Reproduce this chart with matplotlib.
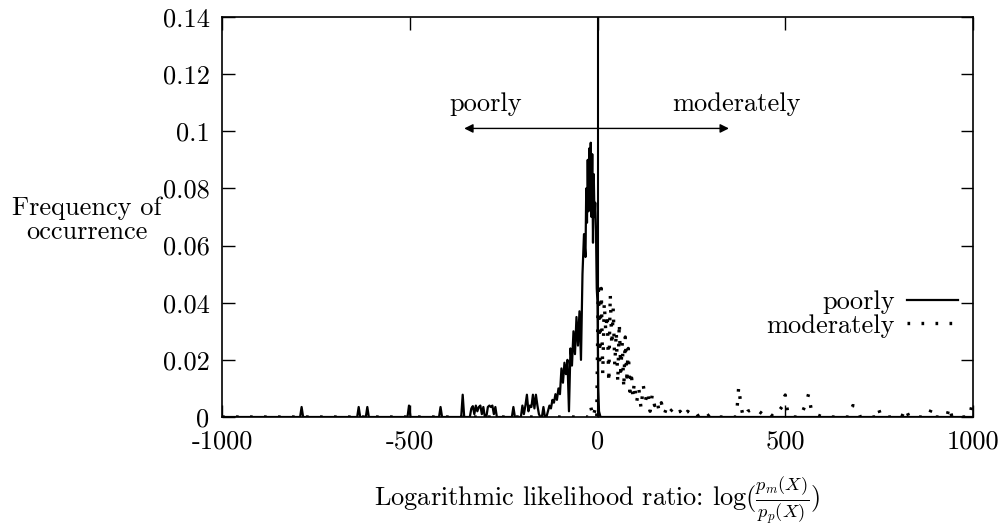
import matplotlib
matplotlib.use("Agg")
import matplotlib.pyplot as plt

plt.rcParams['font.family'] = ['cmr10', 'DejaVu Serif']
plt.rcParams['mathtext.fontset'] = 'cm'
plt.rcParams['axes.unicode_minus'] = False
plt.rcParams['axes.formatter.use_mathtext'] = True

# ---- data ----
x_ticks = [-1000, -500, 0, 500, 1000]
x_ticklabels = ['-1000', '-500', '0', '500', '1000']
y_ticks = [0, 0.02, 0.04, 0.06, 0.08, 0.10, 0.12, 0.14]
y_ticklabels = ['0', '0.02', '0.04', '0.06', '0.08', '0.1', '0.12', '0.14']

poorly_x = [-1000, -792, -788, -784, -640, -636, -632, -617, -613, -609,
            -506, -502, -498, -422, -418, -414, -363, -359, -355,
            -340, -336, -332, -328, -324, -320, -316, -312, -308, -304, -300,
            -296, -292, -288, -284, -280, -276, -272, -268,
            -228, -224, -220, -204, -200, -196, -192, -188, -184, -180, -176,
            -172, -168, -164, -160, -156, -152, -148, -144, -140, -136,
            -132, -128, -124, -120, -116, -112, -108, -104, -100, -96, -92,
            -88, -84, -80, -76, -72, -68, -64, -60, -56, -52, -48, -44, -40,
            -36, -32, -30, -28, -26, -24, -22, -20, -18, -16, -14, -12, -10,
            -8, -6, -4, -2, 0, 2, 4, 8, 1000]
poorly_y = [0, 0, 0.0035, 0, 0, 0.0035, 0, 0, 0.0035, 0,
            0, 0.004, 0, 0, 0.0035, 0, 0, 0.0078, 0,
            0, 0.003, 0.0038, 0.001, 0.004, 0.002, 0.0035, 0.004, 0.001, 0.0035, 0,
            0, 0.0035, 0.004, 0.0035, 0.004, 0.001, 0.0035, 0,
            0, 0.0035, 0, 0, 0.004, 0.001, 0.004, 0.0078, 0.002, 0.004, 0.0035,
            0.0078, 0.003, 0.0078, 0.004, 0.001, 0, 0, 0.0035, 0, 0,
            0.002, 0.004, 0.003, 0.006, 0.005, 0.008, 0.006, 0.010, 0.008, 0.017, 0.012,
            0.019, 0.015, 0.020, 0.002, 0.024, 0.018, 0.030, 0.022, 0.035, 0.025, 0.037, 0.020, 0.050,
            0.064, 0.056, 0.080, 0.068, 0.090, 0.072, 0.094, 0.078, 0.096, 0.070, 0.092, 0.061, 0.085,
            0.070, 0.075, 0.065, 0.045, 0.040, 0.010, 0.002, 0, 0]

mod_x = [-1000, -24, -18, -12, -6, -2, 2, 6, 10, 14, 18, 22, 26, 30, 34, 38, 42, 46,
         50, 54, 58, 62, 66, 70, 74, 78, 82, 86, 90, 94, 98, 104, 110, 116,
         122, 128, 134, 140, 146, 152, 158, 164, 170, 178, 186, 194, 202, 210,
         220, 230, 240, 250, 260, 270, 280, 290, 300, 310,
         370, 376, 382, 388, 400, 420, 440, 450, 470, 482, 494, 500, 506, 512,
         540, 556, 562, 570, 580, 600, 670, 680, 690, 700, 740, 748, 756,
         810, 820, 830, 880, 890, 900, 930, 937, 944, 990, 997, 1000]
mod_y = [0, 0, 0.0036, 0, 0.003, 0, 0.047, 0.020, 0.045, 0.015, 0.040, 0.030, 0.036, 0.012,
         0.043, 0.025, 0.038, 0.018, 0.030, 0.012, 0.033, 0.016, 0.026, 0.010,
         0.028, 0.014, 0.024, 0.009, 0.016, 0.007, 0.012, 0.005, 0.010, 0.003,
         0.011, 0.006, 0.009, 0.002, 0.008, 0.004, 0.006, 0.002, 0.005, 0.001,
         0.004, 0.002, 0.003, 0.001, 0.002, 0.0, 0.002, 0.001, 0.002, 0.0,
         0.001, 0.0, 0.001, 0,
         0, 0.0105, 0.004, 0, 0.002, 0.003, 0.001, 0.002, 0, 0.002, 0.004, 0.0077, 0.002, 0,
         0, 0.005, 0.008, 0.002, 0.001, 0, 0, 0.004, 0.0035, 0, 0, 0.003, 0,
         0, 0.003, 0, 0, 0.003, 0, 0, 0.0035, 0, 0, 0.004, 0.004]

arrow_y = 0.101
arrow_left = -355
arrow_right = 350

# ---- figure ----
FS = 19
fig = plt.figure(figsize=(10.05, 5.31), dpi=100)
ax = fig.add_axes([222 / 1005, 1 - 417 / 531, 751 / 1005, 400 / 531])

ax.plot(poorly_x, poorly_y, color='black', lw=1.6, label='poorly')
ax.plot(mod_x, mod_y, color='black', lw=2.4, linestyle=(0, (0.8, 3.4)),
        label='moderately')

ax.set_xlim(-1000, 1000)
ax.set_ylim(0, 0.14)
ax.set_xticks(x_ticks)
ax.set_xticklabels(x_ticklabels)
ax.set_yticks(y_ticks)
ax.set_yticklabels(y_ticklabels)
ax.tick_params(direction='in', length=9, width=1, top=True, right=True,
               labelsize=FS, pad=9)
for s in ax.spines.values():
    s.set_linewidth(1.2)

ax.axvline(0, color='black', lw=1.5)
ax.annotate('', xy=(arrow_left, arrow_y), xytext=(0, arrow_y),
            arrowprops=dict(arrowstyle='-|>', color='black', lw=1.0,
                            mutation_scale=13, shrinkA=0, shrinkB=0))
ax.annotate('', xy=(arrow_right, arrow_y), xytext=(0, arrow_y),
            arrowprops=dict(arrowstyle='-|>', color='black', lw=1.0,
                            mutation_scale=13, shrinkA=0, shrinkB=0))
ax.text(-298, 0.1095, 'poorly', fontsize=FS, ha='center', va='center')
ax.text(370, 0.1095, 'moderately', fontsize=FS, ha='center', va='center')

leg = ax.legend(loc='center right', bbox_to_anchor=(0.98, 0.2575),
                frameon=False, markerfirst=False, fontsize=FS,
                handlelength=1.95, handletextpad=0.45, labelspacing=0.0,
                borderaxespad=0.0, borderpad=0.0)

fig.text(87 / 1005, 1 - 220 / 531, 'Frequency of\noccurrence', fontsize=FS,
         ha='center', va='center', linespacing=1.0)
fig.text(597 / 1005, 1 - 500 / 531,
         r'Logarithmic likelihood ratio: $\log(\frac{p_m(X)}{p_p(X)})$',
         fontsize=FS, ha='center', va='center')

fig.savefig('out.png', dpi=100)
